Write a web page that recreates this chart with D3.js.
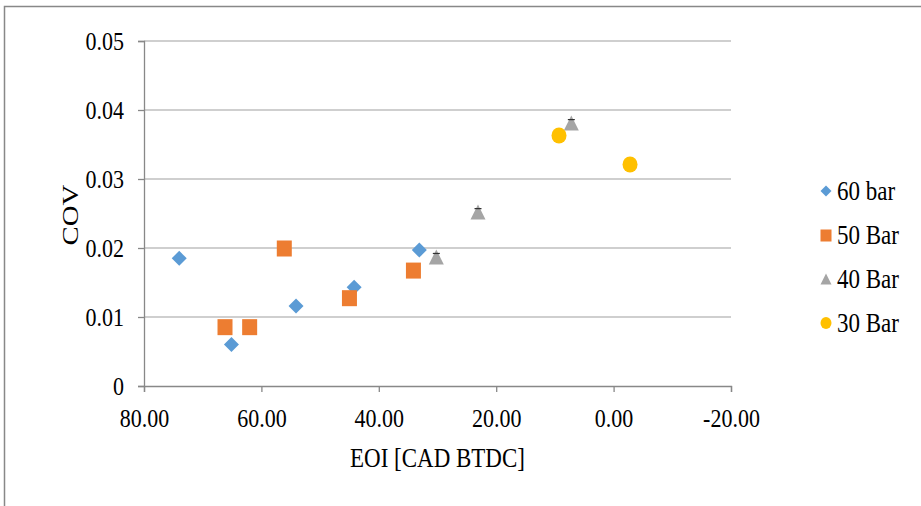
<!DOCTYPE html>
<html>
<head>
	<meta charset="utf-8">
	<title></title>
	<style type="text/css">
		body {
			margin: 0;
			background: #fff;
		}
		.viz {
			display: block;
		}
		.viz text {
			font-family: "Liberation Serif";
		}
	</style>
</head>
<body>
	<svg class="viz" width="921" height="506"></svg>

	<script src="https://d3js.org/d3.v7.min.js" charset="utf-8"></script>
	<script type="text/javascript">

		// series data
		var seriesNames = ['60 bar', '50 Bar', '40 Bar', '30 Bar'];
		var bar60X = [74.0, 65.1, 54.1, 44.2, 33.1];
		var bar60Y = [0.0185, 0.0060, 0.0116, 0.0143, 0.0197];
		var bar50X = [66.2, 62.0, 56.1, 45.0, 34.1];
		var bar50Y = [0.0086, 0.0086, 0.0200, 0.0128, 0.0168];
		var bar40X = [30.2, 23.1, 7.2];
		var bar40Y = [0.0187, 0.0252, 0.0381];
		var bar30X = [9.3, -2.8];
		var bar30Y = [0.0363, 0.0321];
		var xTicks = [80, 60, 40, 20, 0, -20];
		var yTicks = [0, 0.01, 0.02, 0.03, 0.04, 0.05];

		var colors = ['#5b9bd5', '#ed7d31', '#a5a5a5', '#ffc000'];
		var shapes = ['diamond', 'square', 'triangle', 'circle'];

		var series = [
			{ xs: bar60X, ys: bar60Y },
			{ xs: bar50X, ys: bar50Y },
			{ xs: bar40X, ys: bar40Y },
			{ xs: bar30X, ys: bar30Y }
		];

		var canvas = d3.select('.viz');
		var plotLeft = 144, plotRight = 731, plotTop = 41, plotBottom = 386;
		var serif = 'Liberation Serif';
		var stretch = 'scale(1,1.15)';	// the source text is a bit taller than wide

		// x axis runs backwards, 80 on the left
		var x = d3.scaleLinear().domain([80, -20]).range([plotLeft, plotRight]);
		var y = d3.scaleLinear().domain([0, 0.05]).range([plotBottom, plotTop]);

		// outer border (left and top only are visible)
		canvas.append('path')
			.attr('d', 'M4.5,506 L4.5,6.5 L921,6.5')
			.attr('fill', 'none')
			.attr('stroke', '#888')
			.attr('stroke-width', 1.5);

		// gridlines
		canvas.append('g').selectAll('line').data(yTicks.slice(1))
			.enter().append('line')
				.attr('x1', plotLeft).attr('x2', plotRight)
				.attr('y1', function(d) { return y(d); })
				.attr('y2', function(d) { return y(d); })
				.attr('stroke', '#bfbfbf')
				.attr('stroke-width', 1.3);

		var fmt2 = function(d) { return d3.format('.2f')(d).replace('\u2212', '-'); };

		// y axis
		var yAxis = canvas.append('g')
			.attr('transform', 'translate(' + plotLeft + ',0)')
			.call(d3.axisLeft(y).tickValues(yTicks).tickSize(6).tickPadding(14)
				.tickFormat(function(d) { return d === 0 ? '0' : fmt2(d); }));

		// x axis
		var xAxis = canvas.append('g')
			.attr('transform', 'translate(0,' + plotBottom + ')')
			.call(d3.axisBottom(x).tickValues(xTicks).tickSize(6).tickPadding(8)
				.tickFormat(fmt2));

		[yAxis, xAxis].forEach(function(ax) {
			ax.attr('font-family', serif);
			ax.select('.domain').attr('stroke', '#888').attr('stroke-width', 1.3);
			ax.selectAll('.tick line').attr('stroke', '#888').attr('stroke-width', 1.3);
			ax.selectAll('.tick text')
				.attr('fill', '#000')
				.style('font-family', serif)
				.style('font-size', '22px');
		});
		yAxis.selectAll('.tick text').attr('transform', stretch);
		xAxis.selectAll('.tick text')
			.attr('y', 0)
			.attr('dy', '0.71em')
			.attr('transform', 'translate(0,23.5) ' + stretch);

		// axis titles
		canvas.append('text')
			.attr('transform', 'translate(' + (plotLeft + plotRight) / 2 + ',467) ' + stretch)
			.attr('text-anchor', 'middle')
			.style('font-family', serif)
			.style('font-size', '23px')
			.text('EOI [CAD BTDC]');

		canvas.append('text')
			.attr('transform', 'translate(78,215) rotate(-90) scale(1.2,1)')
			.attr('text-anchor', 'middle')
			.style('font-family', serif)
			.style('font-size', '24px')
			.text('COV');

		// marker drawing
		function marker(sel, shape, color, size) {
			if (shape === 'diamond') {
				sel.append('path')
					.attr('d', 'M0,' + (-size) + ' L' + size + ',0 L0,' + size + ' L' + (-size) + ',0 Z')
					.attr('fill', color);
			} else if (shape === 'square') {
				sel.append('rect')
					.attr('x', -size).attr('y', -size)
					.attr('width', size * 2).attr('height', size * 2 + 1)
					.attr('fill', color);
			} else if (shape === 'triangle') {
				sel.append('path')
					.attr('d', 'M0,' + (-size) + ' L' + size + ',' + size + ' L' + (-size) + ',' + size + ' Z')
					.attr('fill', color);
			} else {
				sel.append('ellipse')
					.attr('rx', size).attr('ry', size + 0.5)
					.attr('fill', color);
			}
		}

		series.forEach(function(s, i) {
			var pts = s.xs.map(function(v, j) { return [v, s.ys[j]]; });
			var g = canvas.append('g').selectAll('g').data(pts)
				.enter().append('g')
					.attr('transform', function(d) {
						return 'translate(' + x(d[0]) + ',' + y(d[1]) + ')';
					});
			g.each(function() { marker(d3.select(this), shapes[i], colors[i], 7.5); });
			// small dark caps on the triangles
			if (shapes[i] === 'triangle') {
				g.append('line')
					.attr('x1', -3.5).attr('x2', 3.5)
					.attr('y1', -3.5).attr('y2', -3.5)
					.attr('stroke', '#333').attr('stroke-width', 1.2);
			}
		});

		// legend
		var legend = canvas.append('g').selectAll('g').data(seriesNames)
			.enter().append('g')
				.attr('transform', function(d, i) {
					return 'translate(826,' + (191 + i * 44) + ')';
				});
		legend.each(function(d, i) { marker(d3.select(this), shapes[i], colors[i], 5.5); });
		legend.append('text')
			.attr('x', 11)
			.attr('dy', '0.35em')
			.attr('transform', stretch)
			.style('font-family', serif)
			.style('font-size', '23px')
			.text(function(d) { return d; });

	</script>
</body>
</html>
